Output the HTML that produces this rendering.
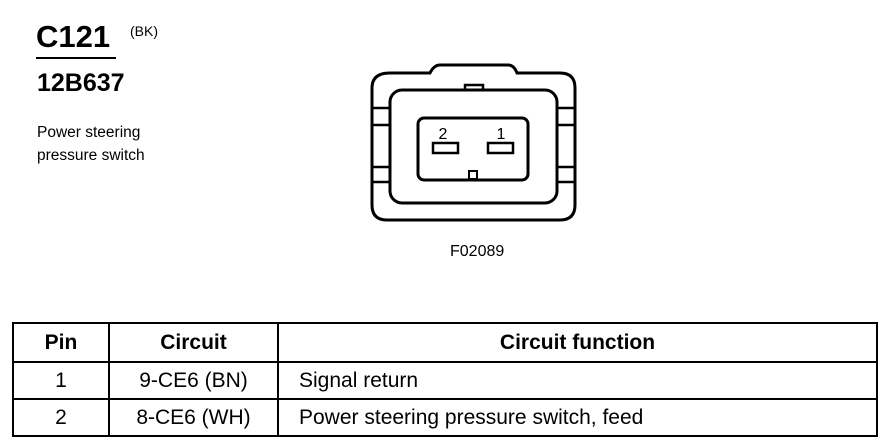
<!DOCTYPE html>
<html><head><meta charset="utf-8"><style>
body{margin:0;width:884px;height:448px;background:#fff;position:relative;overflow:hidden;font-family:"Liberation Sans",Arial,sans-serif;color:#000}
.a{position:absolute;white-space:nowrap;line-height:1}
table{position:absolute;left:12px;top:322px;border-collapse:collapse;width:866px}
td{border:2px solid #000;height:35px;font-size:21px;padding:0}
th{border:2px solid #000;height:35px;font-size:21px;font-weight:bold}
</style></head><body>
<div class="a" style="left:36px;top:21px;font-size:31px;font-weight:bold">C121</div>
<div class="a" style="left:130px;top:24px;font-size:14px">(BK)</div>
<div style="position:absolute;left:36px;top:57px;width:80px;height:2px;background:#000"></div>
<div class="a" style="left:37px;top:71px;font-size:25px;font-weight:bold">12B637</div>
<div class="a" style="left:37px;top:121px;font-size:15.5px;line-height:23px">Power steering<br>pressure switch</div>
<div class="a" style="left:450px;top:244px;font-size:16px">F02089</div>
<svg style="position:absolute;left:0;top:0" width="884" height="448">
<g fill="none" stroke="#000" stroke-width="3">
<path d="M390 73 L430 73 Q434 65 440 65 L508 65 Q514 65 517 73 L560 73 Q575 73 575 88 L575 205 Q575 220 560 220 L387 220 Q372 220 372 205 L372 88 Q372 73 390 73 Z"/>
<rect x="390" y="90" width="167" height="113" rx="12"/>
<rect x="418" y="118" width="110" height="62" rx="6"/>
<rect x="433" y="143" width="25" height="10" stroke-width="2.5"/>
<rect x="488" y="143" width="25" height="10" stroke-width="2.5"/>
<rect x="469" y="171" width="8" height="8" stroke-width="2"/>
<path d="M465 90 L465 85 L483 85 L483 90" stroke-width="2.5"/>
<path d="M372 108 L390 108 M372 125 L390 125 M372 167 L390 167 M372 182 L390 182" stroke-width="2.5"/>
<path d="M557 108 L575 108 M557 125 L575 125 M557 167 L575 167 M557 182 L575 182" stroke-width="2.5"/>
</g>
<text x="443" y="139" font-family="Liberation Sans" font-size="16" text-anchor="middle">2</text>
<text x="501" y="139" font-family="Liberation Sans" font-size="16" text-anchor="middle">1</text>
</svg>
<table>
<tr><th style="width:92px">Pin</th><th style="width:165px">Circuit</th><th>Circuit function</th></tr>
<tr><td style="text-align:center">1</td><td style="text-align:center">9-CE6 (BN)</td><td style="padding-left:20px">Signal return</td></tr>
<tr><td style="text-align:center">2</td><td style="text-align:center">8-CE6 (WH)</td><td style="padding-left:20px">Power steering pressure switch, feed</td></tr>
</table>
</body></html>
